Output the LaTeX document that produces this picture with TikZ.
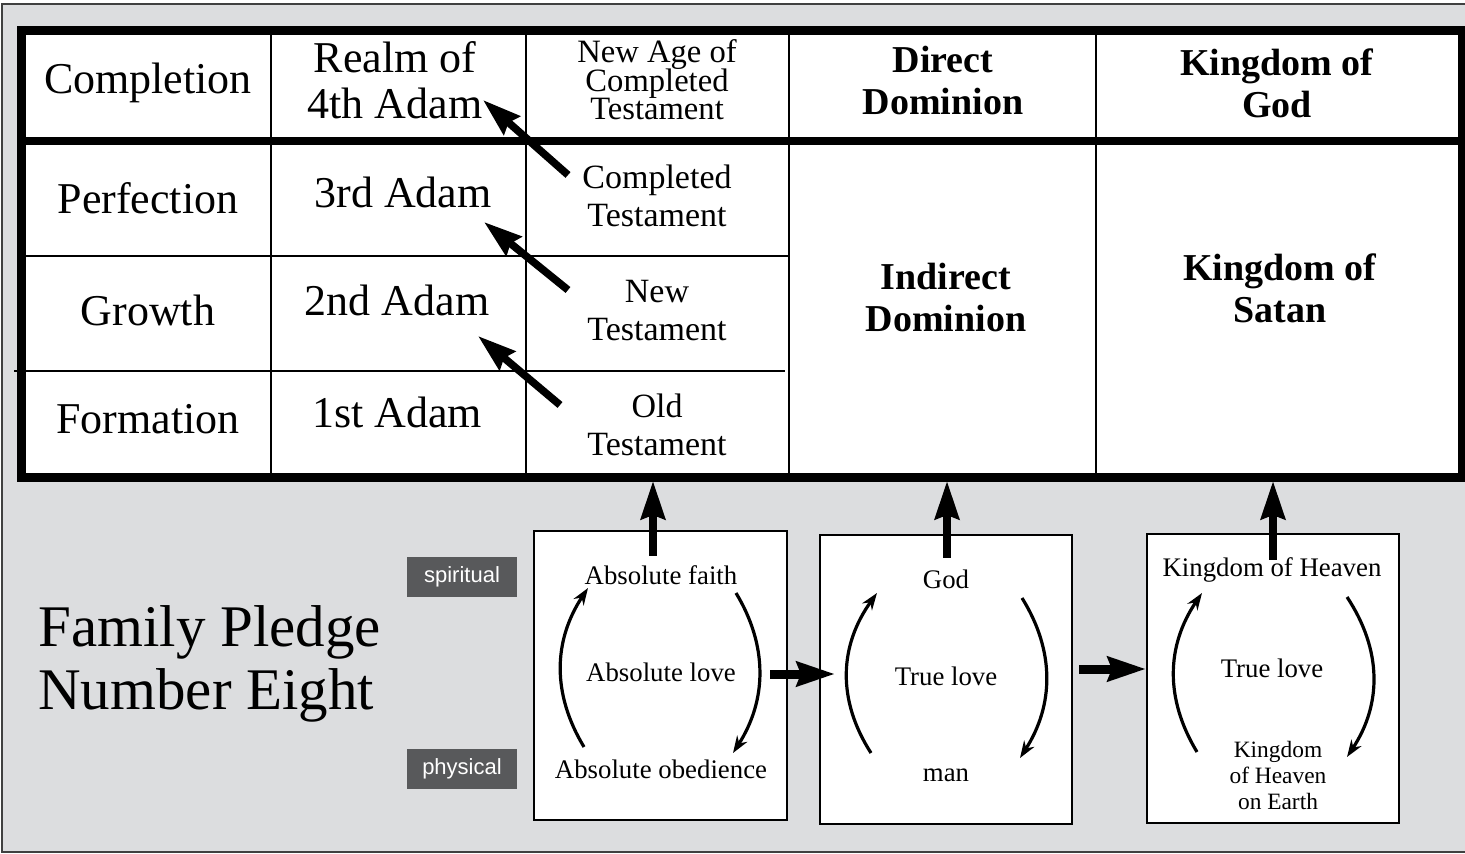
\documentclass[tikz,border=0pt]{standalone}
\usepackage{fontspec}
\setmainfont{Liberation Serif}
\setsansfont{Liberation Sans}
\usetikzlibrary{arrows.meta}
\definecolor{panel}{HTML}{DCDDDF}
\definecolor{tagbg}{HTML}{58595B}
\newcommand{\fsz}[2]{\fontsize{#1}{#2}\selectfont\lineskiplimit=-10pt}
\begin{document}
\begin{tikzpicture}[x=0.5pt,y=-0.5pt,
        cell/.style={align=center,inner sep=0pt},
        big/.style={cell,font=\fsz{22}{23}},
        mid/.style={cell,font=\fsz{17}{19}},
        hd/.style={cell,font=\bfseries\fsz{19}{21}},
        small/.style={cell,font=\fsz{13.4}{14}},
        tag/.style={fill=tagbg,text=white,font=\sffamily\fsz{11}{13},
            minimum width=55pt,minimum height=20pt,inner sep=0pt},
        fat/.style={line width=3.8pt,-{Stealth[length=19pt,width=12pt,inset=2pt]}},
        curl/.style={line width=1.6pt,-{Stealth[length=8.5pt,width=6pt]}},
        box/.style={line width=1.2pt,fill=white}]
    \useasboundingbox (0,0) rectangle (1465,854);
    \fill[white] (0,0) rectangle (1465,854);
    \fill[panel] (2,4) rectangle (1465,852);
    \draw[line width=1pt,black!75] (1465,4) -- (2,4) -- (2,852) -- (1465,852);
    % table
    \fill[white] (21,31) rectangle (1462,478);
    \foreach \x in {271,526,789,1096}
        \draw[line width=1pt] (\x,31) -- (\x,478);
    \draw[line width=1pt] (21,256) -- (789,256) (14,371) -- (785,371);
    \draw[line width=4pt] (21,141) -- (1462,141);
    \draw[line width=4.5pt] (21,31) rectangle (1462,478);
    \node[big] (compl) at (148,83) {Completion};
    \node[big] (adam4) at (395,80) {Realm of\\4th Adam};
    \node[mid,font=\fsz{16.3}{14.2}] (tnewage) at (657,80) {New Age of\\Completed\\Testament};
    \node[hd] (direct) at (943,81) {Direct\\Dominion};
    \node[hd] (kgod) at (1277,83) {Kingdom of\\God};
    \node[big] (perf) at (148,198) {Perfection};
    \node[big] (adam3) at (403,192) {3rd Adam};
    \node[mid] (tcompl) at (657,196) {Completed\\Testament};
    \node[big] (growth) at (148,310) {Growth};
    \node[big] (adam2) at (397,300) {2nd Adam};
    \node[mid] (tnew) at (657,311) {New\\Testament};
    \node[big] (form) at (148,419) {Formation};
    \node[big] (adam1) at (397,412) {1st Adam};
    \node[mid] (told) at (657,425) {Old\\Testament};
    \node[hd] (indirect) at (946,298) {Indirect\\Dominion};
    \node[hd] (ksatan) at (1280,288) {Kingdom of\\Satan};
    \coordinate (c3) at (568,175); \coordinate (c4) at (483,100);
    \coordinate (n3) at (568,290); \coordinate (n2) at (484,222);
    \coordinate (o3) at (560,405); \coordinate (o2) at (478,336);
    \draw[fat] (c3) -- (c4);
    \draw[fat] (n3) -- (n2);
    \draw[fat] (o3) -- (o2);
    % pledge
    \node[anchor=west,align=left,inner sep=0pt,font=\fsz{29.5}{31.5}] (pledge) at (38,664)
        {Family Pledge\\Number Eight};
    \node[tag] (spirit) at (462,577) {spiritual};
    \node[tag] (phys) at (462,769) {physical};
    \draw[box] (534,531) rectangle (787,820);
    \draw[box] (820,535) rectangle (1072,824);
    \draw[box] (1147,534) rectangle (1399,823);
    \node[small] (faith) at (661,575) {Absolute faith};
    \node[small] (alove) at (661,672) {Absolute love};
    \node[small] (obed) at (661,769) {Absolute obedience};
    \node[small] (god) at (946,579) {God};
    \node[small] (tlove) at (946,676) {True love};
    \node[small] (man) at (946,775) {man};
    \node[small] (kheaven) at (1272,570) {Kingdom of Heaven};
    \node[small] (tlove2) at (1272,668) {True love};
    \node[cell,font=\fsz{11.7}{13}] (kearth) at (1278,775) {Kingdom\\of Heaven\\on Earth};
    \draw[curl] (584,747) .. controls (552,694) and (553,641) .. (588,588);
    \draw[curl] (736,593) .. controls (768,646) and (767,700) .. (733,753);
    \draw[curl] (871,753) .. controls (837,700) and (839,646) .. (877,593);
    \draw[curl] (1022,598) .. controls (1055,651) and (1054,705) .. (1020,758);
    \draw[curl] (1197,752) .. controls (1165,699) and (1166,646) .. (1202,593);
    \draw[curl] (1347,597) .. controls (1382,650) and (1382,704) .. (1347,757);
    % links
    \coordinate (u1) at (653,556); \coordinate (u2) at (947,558); \coordinate (u3) at (1273,560);
    \coordinate (v1) at (653,481); \coordinate (v2) at (947,481); \coordinate (v3) at (1273,481);
    \draw[fat] (u1) -- (v1);
    \draw[fat] (u2) -- (v2);
    \draw[fat] (u3) -- (v3);
    \coordinate (r1) at (770,674); \coordinate (r2) at (835,674);
    \coordinate (s1) at (1079,669); \coordinate (s2) at (1146,669);
    \draw[fat,line width=4.5pt] (r1) -- (r2);
    \draw[fat,line width=4.5pt] (s1) -- (s2);
\end{tikzpicture}
\end{document}
